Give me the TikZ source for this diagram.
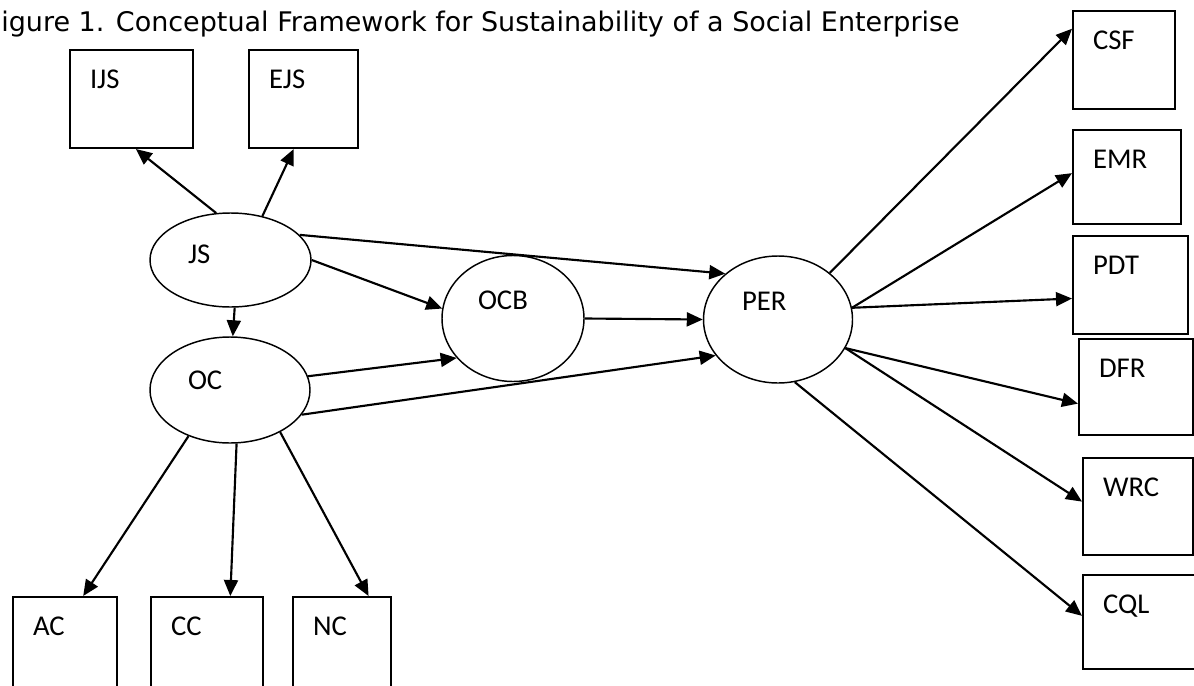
\documentclass[tikz,border=0pt]{standalone}
\usepackage{fontspec}
\setmainfont{Carlito}
\newfontfamily\titlefont{DejaVu Sans}
\usetikzlibrary{shapes.geometric,arrows.meta}

\tikzset{
    box/.style={draw, line width=1.5pt, anchor=north west, align=left, inner xsep=15pt, inner ysep=15.1pt, text height=13.8pt, font=\fontsize{21.5}{26}\selectfont},
    blob/.style={draw, ellipse, line width=1.1pt, inner sep=0pt, align=left, text height=13.8pt, font=\fontsize{21.5}{26}\selectfont},
    link/.style={-{Triangle[length=12pt,width=10.5pt]}, line width=1.6pt}
}

\begin{document}
\begin{tikzpicture}[x=0.75pt,y=-0.75pt]
    \useasboundingbox (0,0) rectangle (1194,685);

    \node[anchor=base west, inner sep=0pt, font=\titlefont\fontsize{20.25}{24}\selectfont] (title) at (1,32) {igure 1. Conceptual Framework for Sustainability of a Social Enterprise};

    % boxes
    \node[box, text width=62.25pt, text depth=29.5pt] (IJS) at (69,49) {IJS};
    \node[box, text width=51.75pt, text depth=29.5pt] (EJS) at (248,49) {EJS};
    \node[box, text width=46.5pt, text depth=29.5pt] (CSF) at (1072,10) {CSF};
    \node[box, text width=51pt, text depth=26.5pt] (EMR) at (1072,129) {EMR};
    \node[box, text width=56.25pt, text depth=29.5pt] (PDT) at (1072,235) {PDT};
    \node[box, text width=55.5pt, text depth=28pt] (DFR) at (1078,338) {DFR};
    \node[box, text width=52.5pt, text depth=28.75pt] (WRC) at (1082,457) {WRC};
    \node[box, text width=56.25pt, text depth=26.5pt] (CQL) at (1082,574) {CQL};
    \node[box, text width=48pt, text depth=29.5pt] (AC) at (12,596) {AC};
    \node[box, text width=54pt, text depth=29.5pt] (CC) at (150,596) {CC};
    \node[box, text width=43.5pt, text depth=29.5pt] (NC) at (292,596) {NC};

    % ellipses
    \node[blob, minimum width=120.75pt, minimum height=70.5pt, text width=63.75pt, text depth=8.7pt] (JS) at (230.5,260) {JS};
    \node[blob, minimum width=120pt, minimum height=79.5pt, text width=63pt, text depth=14.7pt] (OC) at (230,390) {OC};
    \node[blob, minimum width=106.5pt, minimum height=94.5pt, text width=52.5pt, text depth=26.7pt] (OCB) at (513,318.5) {OCB};
    \node[blob, minimum width=111.75pt, minimum height=95.25pt, text width=54pt, text depth=26.7pt] (PER) at (778,319.5) {PER};

    \begin{scope}[every path/.style=link]
        \path (JS.107) edge (IJS.275);
        \path (JS.54) edge (EJS.259);
        \path (JS.20) edge (PER.139);
        \path (JS.east) edge (OCB.172);
        \path (JS.275) edge (OC.87);
        \path (OC.10) edge (OCB.215);
        \path (OC.341) edge (PER.210);
        \path (OC.228) edge (AC.70);
        \path (OC.277) edge (CC.65);
        \path (OC.320) edge (NC.62);
        \path (OCB.east) edge (PER.west);
        \path (PER.42) edge (CSF.149);
        \path (PER.9) edge (EMR.176);
        \path (PER.9) edge (PDT.193);
        \path (PER.337) edge (DFR.196);
        \path (PER.337) edge (WRC.175);
        \path (PER.285) edge (CQL.174);
    \end{scope}
\end{tikzpicture}
\end{document}
